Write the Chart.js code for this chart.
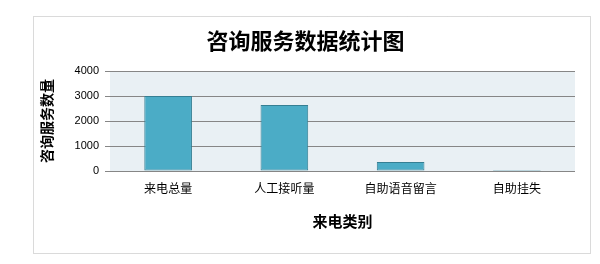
<!DOCTYPE html>
<html>
<head>
<meta charset="utf-8">
<script src="https://cdn.jsdelivr.net/npm/chart.js@4"></script>
<style>
  html, body { margin: 0; padding: 0; background: #fff; }
  #wrap { width: 600px; height: 264px; position: relative; }
</style>
</head>
<body>
<div id="wrap"><canvas id="c"></canvas></div>
<script>
// Chart data
const categories = ['来电总量', '人工接听量', '自助语音留言', '自助挂失'];
const callCounts = [3000, 2640, 360, 40];
const yTicks = [0, 1000, 2000, 3000, 4000];

const CJK = "'Noto Sans CJK SC', 'Noto Sans', sans-serif";

// Frame around the chart + plot area background
const framePlugin = {
  id: 'frame',
  beforeDraw(chart) {
    const { ctx, chartArea } = chart;
    ctx.save();
    ctx.fillStyle = '#e9f0f4';
    ctx.fillRect(chartArea.left, chartArea.top, chartArea.right - chartArea.left, chartArea.bottom - chartArea.top);
    ctx.strokeStyle = '#b4b4b4';
    ctx.lineWidth = 1;
    ctx.setLineDash([1, 1]);
    ctx.strokeRect(33.5, 16.5, 557, 237);
    ctx.restore();
  }
};

new Chart(document.getElementById('c'), {
  type: 'bar',
  data: {
    labels: categories,
    datasets: [{
      data: callCounts,
      backgroundColor: '#4bacc6',
      borderColor: '#357f93',
      borderWidth: 1,
      borderSkipped: false,
      categoryPercentage: 1,
      barPercentage: 0.41,
    }]
  },
  options: {
    responsive: true,
    maintainAspectRatio: false,
    animation: false,
    layout: { padding: { left: 36, right: 25, top: 17, bottom: 12 } },
    plugins: {
      legend: { display: false },
      tooltip: { enabled: false },
      title: {
        display: true,
        text: '咨询服务数据统计图',
        color: '#000',
        font: { family: CJK, size: 22, weight: 'bold' },
        padding: { top: 10, bottom: 17.6 },
      }
    },
    scales: {
      y: {
        min: 0,
        max: 4000,
        afterBuildTicks: s => { s.ticks = yTicks.map(v => ({ value: v })); },
        afterFit: s => { s.width = 74; },
        ticks: {
          color: '#000',
          padding: 6,
          font: { family: "'Liberation Sans', Arial, sans-serif", size: 11 },
          callback: v => String(v),
        },
        grid: { color: '#868686', tickLength: 5 },
        border: { display: false },
        title: {
          display: true,
          text: '咨询服务数量',
          color: '#000',
          font: { family: CJK, size: 14, weight: 'bold' },
          padding: { top: 2, bottom: 0 },
        }
      },
      x: {
        afterFit: s => { s.height = 81; },
        ticks: {
          color: '#000',
          padding: 2,
          font: { family: CJK, size: 12 },
        },
        grid: { display: false },
        border: { display: false },
        title: {
          display: true,
          text: '来电类别',
          color: '#000',
          font: { family: CJK, size: 15, weight: 'bold' },
          padding: { top: 0, bottom: 22 },
        }
      }
    }
  },
  plugins: [framePlugin]
});
</script>
</body>
</html>
